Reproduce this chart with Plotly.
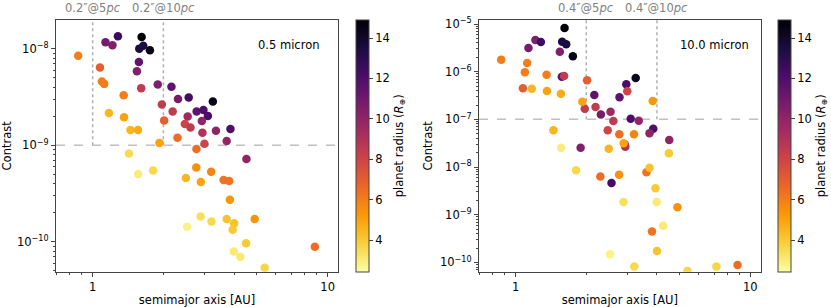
import math
import plotly.graph_objects as go

# ---- data ----
semimajor_au = [0.868, 1.134, 1.214, 1.281, 1.616, 1.642, 1.579, 1.753, 1.573, 1.543,
                1.074, 1.095, 1.12, 1.609, 1.892, 2.164, 1.355, 2.307, 2.562, 3.247,
                1.970, 1.172, 1.36, 2.19, 2.77, 2.961, 3.092, 2.537, 2.915, 2.015,
                2.468, 2.608, 3.347, 3.858, 1.448, 1.559, 2.932, 2.296, 3.718, 1.924,
                2.99, 2.765, 1.427, 4.513, 1.562, 1.809, 2.76, 3.194, 2.493, 2.886,
                3.609, 3.81, 3.836, 2.881, 3.203, 2.524, 3.718, 4.0, 3.942, 4.891,
                4.496, 3.99, 4.251, 8.82, 5.395, 7.166]
planet_radius = [6, 10.8, 10.5, 12.5, 15, 13.5, 13.5, 14.5, 11.5, 10.5,
                 7, 6, 6, 8.5, 10.5, 11.5, 6, 10.8, 12.3, 14.5,
                 8.5, 4.5, 5, 8.5, 11.5, 12, 12, 9.5, 10, 7,
                 8, 8.5, 10, 12, 4.5, 4.8, 9, 6.5, 10, 5,
                 8, 6.5, 3.5, 10, 3, 3.6, 5.5, 5.8, 4.5, 5,
                 6.3, 6.3, 5.3, 3.4, 3.6, 2.8, 4.2, 4.2, 4, 5.4,
                 4, 3.1, 3.1, 6.5, 3.7, 3.7]
contrast_05 = [8.5e-9, 1.17e-8, 1.09e-8, 1.355e-8, 1.33e-8, 1.08e-8, 1.007e-8, 9.7e-9, 7.33e-9, 5.87e-9,
               6.4e-9, 4.58e-9, 4.34e-9, 3.92e-9, 4.27e-9, 4.06e-9, 3.31e-9, 3.03e-9, 3.13e-9, 2.85e-9,
               2.65e-9, 2.17e-9, 1.96e-9, 2.24e-9, 2.24e-9, 2.33e-9, 2.02e-9, 1.99e-9, 1.79e-9, 1.81e-9,
               1.66e-9, 1.53e-9, 1.42e-9, 1.48e-9, 1.44e-9, 1.44e-9, 1.35e-9, 1.2e-9, 1.11e-9, 1.06e-9,
               1.04e-9, 9.16e-10, 8.22e-10, 7.2e-10, 5.04e-10, 5.48e-10, 5.89e-10, 5.31e-10, 4.57e-10, 4.16e-10,
               4.36e-10, 4.26e-10, 2.72e-10, 1.83e-10, 1.62e-10, 1.43e-10, 1.72e-10, 1.55e-10, 1.33e-10, 1.72e-10,
               9.66e-11, 7.93e-11, 7.0e-11, 8.87e-11, 5.38e-11, None]
contrast_10 = [1.79e-6, 3.14e-6, 4.62e-6, 4.2e-6, 8.24e-6, 3.75e-6, 4.26e-6, 2.1e-6, 7.85e-7, 2.62e-6,
               4.49e-7, 9.7e-7, 1.52e-6, 8.13e-7, 2.55e-8, 3.25e-7, 8.65e-7, 1.26e-7, 4.64e-9, 7.38e-7,
               1.67e-7, 4.41e-7, 3.94e-7, 1.82e-7, 2.9e-7, 5.44e-7, 1.03e-7, 1.45e-7, 3.0e-8, 6.6e-7,
               5.9e-8, 9.25e-8, 9.4e-8, 6.38e-8, 5.9e-8, 3.46e-7, 2.68e-8, 6.3e-9, 5.12e-8, 2.35e-7,
               3.88e-7, 4.88e-8, None, 3.7e-8, 2.54e-8, 8.57e-9, 6.93e-9, 4.88e-8, 2.43e-8, 3.15e-8,
               7.78e-9, 4.43e-10, 2.43e-7, 1.85e-9, 8.2e-11, 1.49e-10, 9.7e-9, 1.74e-10, 3.6e-9, 1.44e-9,
               1.95e-8, 1.85e-9, 5.9e-10, 8.87e-11, 6.64e-11, 8.2e-11]

contrast_limit_05 = 1e-9
contrast_limit_10 = 1e-7
iwa_05 = [1, 2]
iwa_10 = [2, 4]
iwa_labels_05 = ["0.2\u2033@5<i>pc</i>", "0.2\u2033@10<i>pc</i>"]
iwa_labels_10 = ["0.4\u2033@5<i>pc</i>", "0.4\u2033@10<i>pc</i>"]
band_labels = ["0.5 micron", "10.0 micron"]
cbar_ticks = [4, 6, 8, 10, 12, 14]
y_exp_05 = [-10, -9, -8]
y_exp_10 = [-10, -9, -8, -7, -6, -5]

# ---- layout geometry ----
W, H = 831, 307
FONT = "DejaVu Sans"
xr = [-0.156, 1.044]
yr1 = [-10.311, -7.70]
yr2 = [-10.195, -4.916]
ydom = [1 - 271.7 / H, 1 - 20 / H]
xdom1 = [56 / W, 338 / W]
xdom2 = [479 / W, 760.7 / W]

GRAY_LINE = "#444444"
FS = 11.5

def minor_vals(lo, hi):
    return [m * 10 ** e for e in range(lo, hi) for m in range(2, 10)]

fig = go.Figure()

panels = [
    ("x", "y", "coloraxis", contrast_05, contrast_limit_05, iwa_05, yr1),
    ("x2", "y2", "coloraxis2", contrast_10, contrast_limit_10, iwa_10, yr2),
]
for xa, ya, ca, cvals, lim, iwa, yr in panels:
    fig.add_trace(go.Scatter(x=[10 ** xr[0], 10 ** xr[1]], y=[lim, lim], mode="lines",
                             line=dict(color="#c0c0c0", width=1.5, dash="dash"),
                             xaxis=xa, yaxis=ya, showlegend=False, hoverinfo="skip"))
    for v in iwa:
        fig.add_trace(go.Scatter(x=[v, v], y=[lim, 10 ** yr[1]], mode="lines",
                                 line=dict(color="#b0b0b0", width=1.5, dash="dot"),
                                 xaxis=xa, yaxis=ya, showlegend=False, hoverinfo="skip"))
    xs = [a for a, c in zip(semimajor_au, cvals) if c is not None]
    ys = [c for c in cvals if c is not None]
    rs = [r for r, c in zip(planet_radius, cvals) if c is not None]
    fig.add_trace(go.Scatter(x=xs, y=ys, mode="markers",
                             marker=dict(size=8.5, color=rs, coloraxis=ca, line=dict(width=0)),
                             xaxis=xa, yaxis=ya, showlegend=False))

cb_common = dict(
    thickness=13, len=(271.7 - 20) / H, lenmode="fraction",
    y=1 - (20 + 271.7) / 2 / H, yanchor="middle", xanchor="left",
    outlinewidth=1, outlinecolor=GRAY_LINE, ticks="outside", ticklen=4,
    tickcolor=GRAY_LINE, tickvals=cbar_ticks, xpad=0, ypad=0,
    tickfont=dict(size=FS, color="black", family=FONT),
    title=dict(text="planet radius (<i>R</i><sub>⊕</sub>)", side="right",
               font=dict(size=FS, color="black", family=FONT)),
)
fig.update_layout(
    coloraxis=dict(colorscale="Inferno", reversescale=True, cmin=2.43, cmax=14.9,
                   colorbar=dict(x=355.7 / W, **cb_common)),
    coloraxis2=dict(colorscale="Inferno", reversescale=True, cmin=2.43, cmax=14.9,
                    colorbar=dict(x=777.7 / W, **cb_common)),
)

def xaxis(dom, anchor):
    return dict(type="log", domain=dom, range=xr, anchor=anchor, automargin=False,
                showline=True, mirror=True, linecolor=GRAY_LINE, linewidth=1.2,
                ticks="outside", ticklen=4, tickcolor=GRAY_LINE, tickvals=[1, 10], ticktext=["1", "10"],
                minor=dict(tickvals=minor_vals(-1, 2), ticks="outside", ticklen=2, tickcolor=GRAY_LINE),
                showgrid=False, zeroline=False,
                tickfont=dict(size=FS, color="black", family=FONT),
                title=dict(text="semimajor axis [AU]", standoff=7,
                           font=dict(size=FS, color="black", family=FONT)))

def yaxis(yr, anchor, exps, lo, hi):
    return dict(type="log", domain=ydom, range=yr, anchor=anchor, automargin=False,
                showline=True, mirror=True, linecolor=GRAY_LINE, linewidth=1.2,
                ticks="outside", ticklen=4, tickcolor=GRAY_LINE,
                tickvals=[10.0 ** e for e in exps],
                ticktext=["10<sup>\u2212%d</sup>" % (-e) for e in exps],
                minor=dict(tickvals=minor_vals(lo, hi), ticks="outside", ticklen=2, tickcolor=GRAY_LINE),
                showgrid=False, zeroline=False,
                tickfont=dict(size=FS, color="black", family=FONT),
                title=dict(text="Contrast", standoff=4,
                           font=dict(size=FS, color="black", family=FONT)))

fig.update_layout(
    xaxis=xaxis(xdom1, "y"), yaxis=yaxis(yr1, "x", y_exp_05, -11, -7),
    xaxis2=xaxis(xdom2, "y2"), yaxis2=yaxis(yr2, "x2", y_exp_10, -11, -4),
)

annotations = []
for xa, labels, vals in [("x", iwa_labels_05, iwa_05), ("x2", iwa_labels_10, iwa_10)]:
    for lab, v in zip(labels, vals):
        annotations.append(dict(x=math.log10(v), xref=xa, y=1 - 7.5 / H, yref="paper",
                                text=lab, showarrow=False, xanchor="center", yanchor="middle",
                                font=dict(size=FS, color="#808080", family=FONT)))
annotations.append(dict(x=288 / W, xref="paper", y=1 - 45 / H, yref="paper", text=band_labels[0],
                        showarrow=False, xanchor="center", yanchor="middle",
                        font=dict(size=FS, color="black", family=FONT)))
annotations.append(dict(x=714.7 / W, xref="paper", y=1 - 45 / H, yref="paper", text=band_labels[1],
                        showarrow=False, xanchor="center", yanchor="middle",
                        font=dict(size=FS, color="black", family=FONT)))

fig.update_layout(
    width=W, height=H, margin=dict(l=0, r=0, t=0, b=0, autoexpand=False),
    paper_bgcolor="white", plot_bgcolor="white",
    annotations=annotations, font=dict(family=FONT, size=FS, color="black"),
)

fig.write_html("out.html", config={"displayModeBar": False},
               post_script="document.body.style.margin='0';document.body.style.overflow='hidden';")
